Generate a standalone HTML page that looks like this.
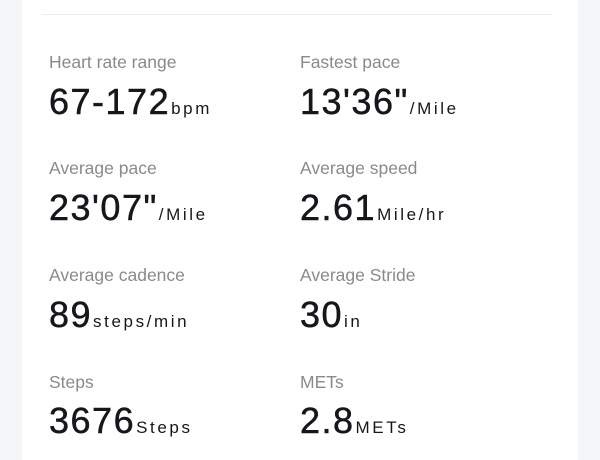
<!DOCTYPE html>
<html><head><style>
body{margin:0;width:600px;height:450px;background:#f5f6f8;overflow:hidden;font-family:"Liberation Sans",sans-serif;position:relative}
.card{position:absolute;left:22px;top:-10px;width:556px;height:470px;background:#fff}
.line{position:absolute;left:42px;top:14px;width:510px;height:1px;background:#ececec}
.lab{position:absolute;font-size:17.5px;color:#8a8a8a;line-height:1}
.val{position:absolute;font-size:36px;color:#15171c;line-height:1;letter-spacing:1.5px;-webkit-text-stroke:0.5px #15171c;white-space:nowrap}
.val span{font-size:17px;letter-spacing:2.6px;-webkit-text-stroke:0;margin-left:1px}
</style></head><body>
<div class="card"></div><div class="line"></div>
<div class="lab" style="left:49px;top:54px">Heart rate range</div>
<div class="lab" style="left:300px;top:54px">Fastest pace</div>
<div class="val" style="left:49px;top:84px">67-172<span>bpm</span></div>
<div class="val" style="left:300px;top:84px">13'36"<span>/Mile</span></div>
<div class="lab" style="left:49px;top:160px">Average pace</div>
<div class="lab" style="left:300px;top:160px">Average speed</div>
<div class="val" style="left:49px;top:190px">23'07"<span>/Mile</span></div>
<div class="val" style="left:300px;top:190px">2.61<span>Mile/hr</span></div>
<div class="lab" style="left:49px;top:267px">Average cadence</div>
<div class="lab" style="left:300px;top:267px">Average Stride</div>
<div class="val" style="left:49px;top:297px">89<span>steps/min</span></div>
<div class="val" style="left:300px;top:297px">30<span>in</span></div>
<div class="lab" style="left:49px;top:374px">Steps</div>
<div class="lab" style="left:300px;top:374px">METs</div>
<div class="val" style="left:49px;top:403px">3676<span>Steps</span></div>
<div class="val" style="left:300px;top:403px">2.8<span>METs</span></div>
</body></html>
